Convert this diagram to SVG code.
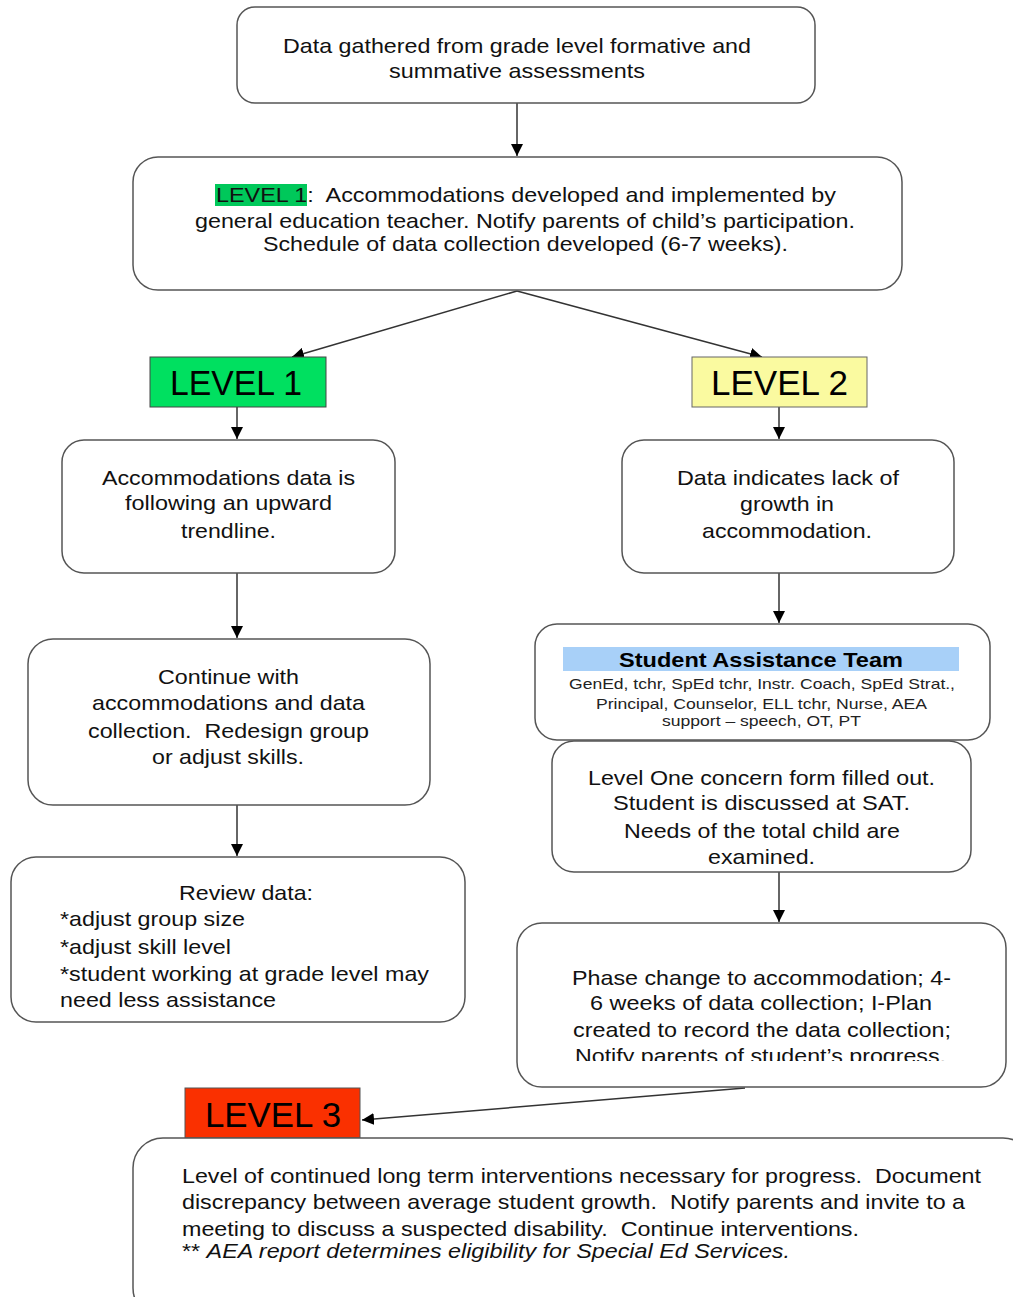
<svg xmlns="http://www.w3.org/2000/svg" width="1013" height="1297" viewBox="0 0 1013 1297">
<style>
.box{fill:#fff;stroke:#555;stroke-width:1.5}
.t{font-family:"Liberation Sans",Arial,sans-serif;font-size:21px;fill:#111}
.lv{font-family:"Liberation Sans",Arial,sans-serif;font-size:35px;fill:#000}
.s{font-family:"Liberation Sans",Arial,sans-serif;font-size:15px;fill:#222}
.conn{stroke:#333;stroke-width:1.5;fill:none;marker-end:url(#ah)}
</style>
<defs>
<marker id="ah" viewBox="0 0 10 10" refX="10" refY="5" markerWidth="8" markerHeight="8" markerUnits="strokeWidth" orient="auto">
<path d="M0,0 L10,5 L0,10 z" fill="#000"/>
</marker>
<clipPath id="clipE"><rect x="517" y="923" width="490" height="138"/></clipPath>
</defs>
<rect width="1013" height="1297" fill="#fff"/>

<g id="connectors">
<line class="conn" x1="517" y1="103" x2="517" y2="156"/>
<line class="conn" x1="517" y1="291" x2="292" y2="357"/>
<line class="conn" x1="517" y1="291" x2="762" y2="357"/>
<line class="conn" x1="237" y1="407" x2="237" y2="439"/>
<line class="conn" x1="779" y1="407" x2="779" y2="439"/>
<line class="conn" x1="237" y1="573" x2="237" y2="638"/>
<line class="conn" x1="779" y1="573" x2="779" y2="623"/>
<line class="conn" x1="237" y1="805" x2="237" y2="856"/>
<line class="conn" x1="779" y1="872" x2="779" y2="922"/>
<line class="conn" x1="745" y1="1088" x2="362" y2="1120"/>
</g>

<g id="n-data">
<rect class="box" x="237" y="7" width="578" height="96" rx="18"/>
<text class="t" x="283" y="53" textLength="468" lengthAdjust="spacingAndGlyphs">Data gathered from grade level formative and</text>
<text class="t" x="389" y="78" textLength="256" lengthAdjust="spacingAndGlyphs">summative assessments</text>
</g>

<g id="n-level1-desc">
<rect class="box" x="133" y="157" width="769" height="133" rx="25"/>
<rect x="215" y="184" width="92" height="22" fill="#00c85a"/>
<text class="t" x="216" y="202" textLength="620" lengthAdjust="spacingAndGlyphs" xml:space="preserve">LEVEL 1:  Accommodations developed and implemented by</text>
<text class="t" x="195" y="228" textLength="660" lengthAdjust="spacingAndGlyphs">general education teacher. Notify parents of child’s participation.</text>
<text class="t" x="263" y="251" textLength="525" lengthAdjust="spacingAndGlyphs">Schedule of data collection developed (6-7 weeks).</text>
</g>

<g id="n-level1">
<rect x="150" y="357" width="176" height="50" fill="#00e060" stroke="#444" stroke-width="1"/>
<text class="lv" x="170" y="395" textLength="132" lengthAdjust="spacingAndGlyphs">LEVEL 1</text>
</g>

<g id="n-level2">
<rect x="692" y="357" width="175" height="50" fill="#fafaa0" stroke="#666" stroke-width="1"/>
<text class="lv" x="711" y="395" textLength="137" lengthAdjust="spacingAndGlyphs">LEVEL 2</text>
</g>

<g id="n-upward">
<rect class="box" x="62" y="440" width="333" height="133" rx="22"/>
<text class="t" x="102" y="485" textLength="253" lengthAdjust="spacingAndGlyphs">Accommodations data is</text>
<text class="t" x="125" y="510" textLength="207" lengthAdjust="spacingAndGlyphs">following an upward</text>
<text class="t" x="181" y="538" textLength="95" lengthAdjust="spacingAndGlyphs">trendline.</text>
</g>

<g id="n-lack">
<rect class="box" x="622" y="440" width="332" height="133" rx="22"/>
<text class="t" x="677" y="485" textLength="222" lengthAdjust="spacingAndGlyphs">Data indicates lack of</text>
<text class="t" x="740" y="511" textLength="94" lengthAdjust="spacingAndGlyphs">growth in</text>
<text class="t" x="702" y="538" textLength="170" lengthAdjust="spacingAndGlyphs">accommodation.</text>
</g>

<g id="n-continue">
<rect class="box" x="28" y="639" width="402" height="166" rx="25"/>
<text class="t" x="158" y="684" textLength="141" lengthAdjust="spacingAndGlyphs">Continue with</text>
<text class="t" x="92" y="710" textLength="273" lengthAdjust="spacingAndGlyphs">accommodations and data</text>
<text class="t" x="88" y="738" textLength="281" lengthAdjust="spacingAndGlyphs" xml:space="preserve">collection.  Redesign group</text>
<text class="t" x="152" y="764" textLength="152" lengthAdjust="spacingAndGlyphs">or adjust skills.</text>
</g>

<g id="n-sat">
<rect class="box" x="535" y="624" width="455" height="116" rx="22"/>
<rect x="563" y="647" width="396" height="24" fill="#a8d0f8"/>
<text x="619" y="667" textLength="284" lengthAdjust="spacingAndGlyphs" style="font-family:'Liberation Sans',Arial,sans-serif;font-size:21px;font-weight:bold;fill:#000">Student Assistance Team</text>
<text class="s" x="569" y="689" textLength="386" lengthAdjust="spacingAndGlyphs">GenEd, tchr, SpEd tchr, Instr. Coach, SpEd Strat.,</text>
<text class="s" x="596" y="709" textLength="331" lengthAdjust="spacingAndGlyphs">Principal, Counselor, ELL tchr, Nurse, AEA</text>
<text class="s" x="662" y="726" textLength="199" lengthAdjust="spacingAndGlyphs">support – speech, OT, PT</text>
</g>

<g id="n-concern">
<rect class="box" x="552" y="741" width="419" height="131" rx="22"/>
<text class="t" x="588" y="785" textLength="347" lengthAdjust="spacingAndGlyphs">Level One concern form filled out.</text>
<text class="t" x="613" y="810" textLength="297" lengthAdjust="spacingAndGlyphs">Student is discussed at SAT.</text>
<text class="t" x="624" y="838" textLength="276" lengthAdjust="spacingAndGlyphs">Needs of the total child are</text>
<text class="t" x="708" y="864" textLength="107" lengthAdjust="spacingAndGlyphs">examined.</text>
</g>

<g id="n-review">
<rect class="box" x="11" y="857" width="454" height="165" rx="25"/>
<text class="t" x="179" y="900" textLength="134" lengthAdjust="spacingAndGlyphs">Review data:</text>
<text class="t" x="60" y="926" textLength="185" lengthAdjust="spacingAndGlyphs">*adjust group size</text>
<text class="t" x="60" y="954" textLength="171" lengthAdjust="spacingAndGlyphs">*adjust skill level</text>
<text class="t" x="60" y="981" textLength="369" lengthAdjust="spacingAndGlyphs">*student working at grade level may</text>
<text class="t" x="60" y="1007" textLength="216" lengthAdjust="spacingAndGlyphs">need less assistance</text>
</g>

<g id="n-phase">
<rect class="box" x="517" y="923" width="489" height="164" rx="25"/>
<g clip-path="url(#clipE)">
<text class="t" x="572" y="985" textLength="379" lengthAdjust="spacingAndGlyphs">Phase change to accommodation; 4-</text>
<text class="t" x="590" y="1010" textLength="342" lengthAdjust="spacingAndGlyphs">6 weeks of data collection; I-Plan</text>
<text class="t" x="573" y="1037" textLength="378" lengthAdjust="spacingAndGlyphs">created to record the data collection;</text>
<text class="t" x="575" y="1063" textLength="371" lengthAdjust="spacingAndGlyphs">Notify parents of student’s progress.</text>
</g>
</g>

<g id="n-level3">
<rect x="185" y="1088" width="175" height="50" fill="#fa3000" stroke="#555" stroke-width="1"/>
<text class="lv" x="205" y="1127" textLength="136" lengthAdjust="spacingAndGlyphs">LEVEL 3</text>
</g>

<g id="n-level3-desc">
<rect class="box" x="133" y="1138" width="900" height="180" rx="30"/>
<text class="t" x="182" y="1183" textLength="799" lengthAdjust="spacingAndGlyphs" xml:space="preserve">Level of continued long term interventions necessary for progress.  Document</text>
<text class="t" x="182" y="1209" textLength="783" lengthAdjust="spacingAndGlyphs" xml:space="preserve">discrepancy between average student growth.  Notify parents and invite to a</text>
<text class="t" x="182" y="1236" textLength="677" lengthAdjust="spacingAndGlyphs" xml:space="preserve">meeting to discuss a suspected disability.  Continue interventions.</text>
<text class="t" x="182" y="1258" textLength="608" lengthAdjust="spacingAndGlyphs">** <tspan font-style="italic">AEA report determines eligibility for Special Ed Services.</tspan></text>
</g>
</svg>
